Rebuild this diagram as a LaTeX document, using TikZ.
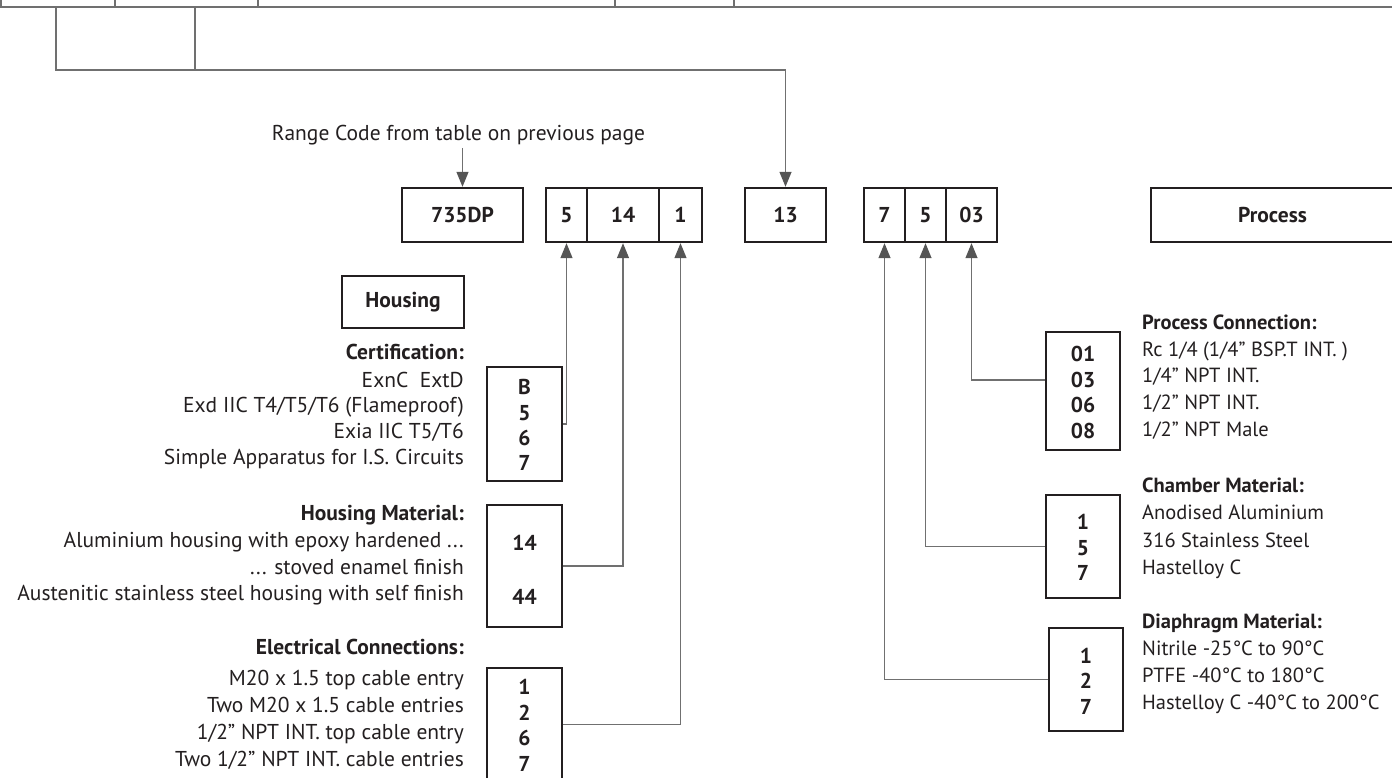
\documentclass[tikz,border=0pt]{standalone}
\usepackage{fontspec}
\setmainfont{PT Sans}
\usetikzlibrary{arrows.meta}
\definecolor{ink}{HTML}{231F20}
\definecolor{wire}{HTML}{707070}
\definecolor{tipc}{HTML}{555555}
\begin{document}
\begin{tikzpicture}[x=1pt,y=-1pt,
  txt/.style={text=ink, inner sep=0pt, font=\fontsize{21.5}{25}\selectfont},
  lbl/.style={txt, anchor=mid east},
  rlbl/.style={txt, anchor=mid west, font=\fontsize{20.5}{24}\selectfont},
  hd/.style={font=\fontsize{21.5}{25}\selectfont\bfseries},
  rhd/.style={font=\fontsize{20.5}{24}\selectfont\bfseries},
  numb/.style={txt, font=\fontsize{21.5}{25}\selectfont\bfseries},
  box/.style={draw=ink, line width=2.4pt, inner sep=0pt, text=ink, font=\fontsize{21.5}{25}\selectfont\bfseries},
  codebox/.style={box, minimum height=54pt},
  conn/.style={draw=wire, line width=1.3pt},
  arr/.style={conn, -{Triangle[length=15pt,width=12pt,color=tipc,fill=tipc]}},
  topline/.style={draw=wire, line width=1.5pt}
]
\useasboundingbox (0,0) rectangle (1392,778);

% top strip (edge of a table above)
\draw[topline] (0,7) -- (1392,7);
\foreach \xx in {1,115,258,615,734} \draw[topline] (\xx,0) -- (\xx,7);

% code row
\node[codebox, minimum width=121pt] (dp) at (462.5,215) {735DP};
\node[codebox, minimum width=41pt] (ca) at (566.5,215) {5};
\node[codebox, minimum width=72pt] (cb) at (623,215) {14};
\node[codebox, minimum width=43pt] (cc) at (680.5,215) {1};
\node[codebox, minimum width=81pt] (cd) at (785.5,215) {13};
\node[codebox, minimum width=41pt] (ce) at (884.5,215) {7};
\node[codebox, minimum width=41pt] (cf) at (925.5,215) {5};
\node[codebox, minimum width=51pt] (cg) at (971.5,215) {03};
\node[codebox, minimum width=243pt] (proc) at (1272.5,215) {Process};

% range code
\node[txt] (rc) at (458.5,135) {Range Code from table on previous page};
\draw[arr] (dp.north |- 0,148) -- (dp.north);

% bracket from top
\coordinate (ta) at (56,8);
\coordinate (tb) at (195,8);
\coordinate (ja) at (56,70);
\coordinate (jb) at (195,70);
\draw[conn] (tb) -- (jb);
\draw[arr] (ta) -- (ja) -| (cd.north);

% housing
\node[box, minimum width=122pt, minimum height=52pt] (hous) at (403,302) {Housing};

% certification
\node[lbl, hd] (certh) at (464,357) {Certification:};
\node[lbl] (cert1) at (464,385) {ExnC\ \ ExtD};
\node[lbl] (cert2) at (464,410) {Exd IIC T4/T5/T6 (Flameproof)};
\node[lbl] (cert3) at (464,436) {Exia IIC T5/T6};
\node[lbl] (cert4) at (464,462) {Simple Apparatus for I.S. Circuits};
\node[box, minimum width=75pt, minimum height=114pt] (cert) at (524.5,424) {};
\node[numb] (certn1) at (524.5,387) {B};
\node[numb] (certn2) at (524.5,413) {5};
\node[numb] (certn3) at (524.5,438) {6};
\node[numb] (certn4) at (524.5,463) {7};

% housing material
\node[lbl, hd] (hmh) at (464,518) {Housing Material:};
\node[lbl] (hm1) at (464,545) {Aluminium housing with epoxy hardened ...};
\node[lbl] (hm2) at (464,572) {... stoved enamel finish};
\node[lbl] (hm3) at (464,598) {Austenitic stainless steel housing with self finish};
\node[box, minimum width=75pt, minimum height=122pt] (hm) at (524.5,566) {};
\node[numb] (hmn1) at (524.5,543) {14};
\node[numb] (hmn2) at (524.5,597) {44};

% electrical connections
\node[lbl, hd] (ech) at (464,652) {Electrical Connections:};
\node[lbl] (ec1) at (464,683) {M20 x 1.5 top cable entry};
\node[lbl] (ec2) at (464,710) {Two M20 x 1.5 cable entries};
\node[lbl] (ec3) at (464,737) {1/2” NPT INT. top cable entry};
\node[lbl] (ec4) at (464,764) {Two 1/2” NPT INT. cable entries};
\node[box, minimum width=75pt, minimum height=113pt] (ec) at (524.5,724.5) {};
\node[numb] (ecn1) at (524.5,687) {1};
\node[numb] (ecn2) at (524.5,713) {2};
\node[numb] (ecn3) at (524.5,738) {6};
\node[numb] (ecn4) at (524.5,764) {7};

% left connectors
\draw[arr] (cert.east) -| (ca.south);
\draw[arr] (hm.east) -| (cb.south);
\draw[arr] (ec.east) -| (cc.south);

% process connection
\node[rlbl, rhd] (pch) at (1142,327) {Process Connection:};
\node[rlbl] (pc1) at (1142,354) {Rc 1/4 (1/4” BSP.T INT. )};
\node[rlbl] (pc2) at (1142,380) {1/4” NPT INT.};
\node[rlbl] (pc3) at (1142,407) {1/2” NPT INT.};
\node[rlbl] (pc4) at (1142,434) {1/2” NPT Male};
\node[box, minimum width=74pt, minimum height=118pt] (pc) at (1083,391) {};
\node[numb] (pcn1) at (1083,354) {01};
\node[numb] (pcn2) at (1083,380) {03};
\node[numb] (pcn3) at (1083,405) {06};
\node[numb] (pcn4) at (1083,431) {08};

% chamber material
\node[rlbl, rhd] (cmh) at (1142,490) {Chamber Material:};
\node[rlbl] (cm1) at (1142,517) {Anodised Aluminium};
\node[rlbl] (cm2) at (1142,545) {316 Stainless Steel};
\node[rlbl] (cm3) at (1142,572) {Hastelloy C};
\node[box, minimum width=74pt, minimum height=103pt] (cm) at (1083,546.5) {};
\node[numb] (cmn1) at (1083,522) {1};
\node[numb] (cmn2) at (1083,548) {5};
\node[numb] (cmn3) at (1083,573) {7};

% diaphragm material
\node[rlbl, rhd] (dmh) at (1142,626) {Diaphragm Material:};
\node[rlbl] (dm1) at (1142,653) {Nitrile -25°C to 90°C};
\node[rlbl] (dm2) at (1142,680) {PTFE -40°C to 180°C};
\node[rlbl] (dm3) at (1142,707) {Hastelloy C -40°C to 200°C};
\node[box, minimum width=74pt, minimum height=103pt] (dm) at (1086,679.5) {};
\node[numb] (dmn1) at (1086,656) {1};
\node[numb] (dmn2) at (1086,681) {2};
\node[numb] (dmn3) at (1086,707) {7};

% right connectors
\draw[arr] ([yshift=11pt]pc.west) -| (cg.south);
\draw[arr] (cm.west) -| (cf.south);
\draw[arr] (dm.west) -| (ce.south);
\end{tikzpicture}
\end{document}
